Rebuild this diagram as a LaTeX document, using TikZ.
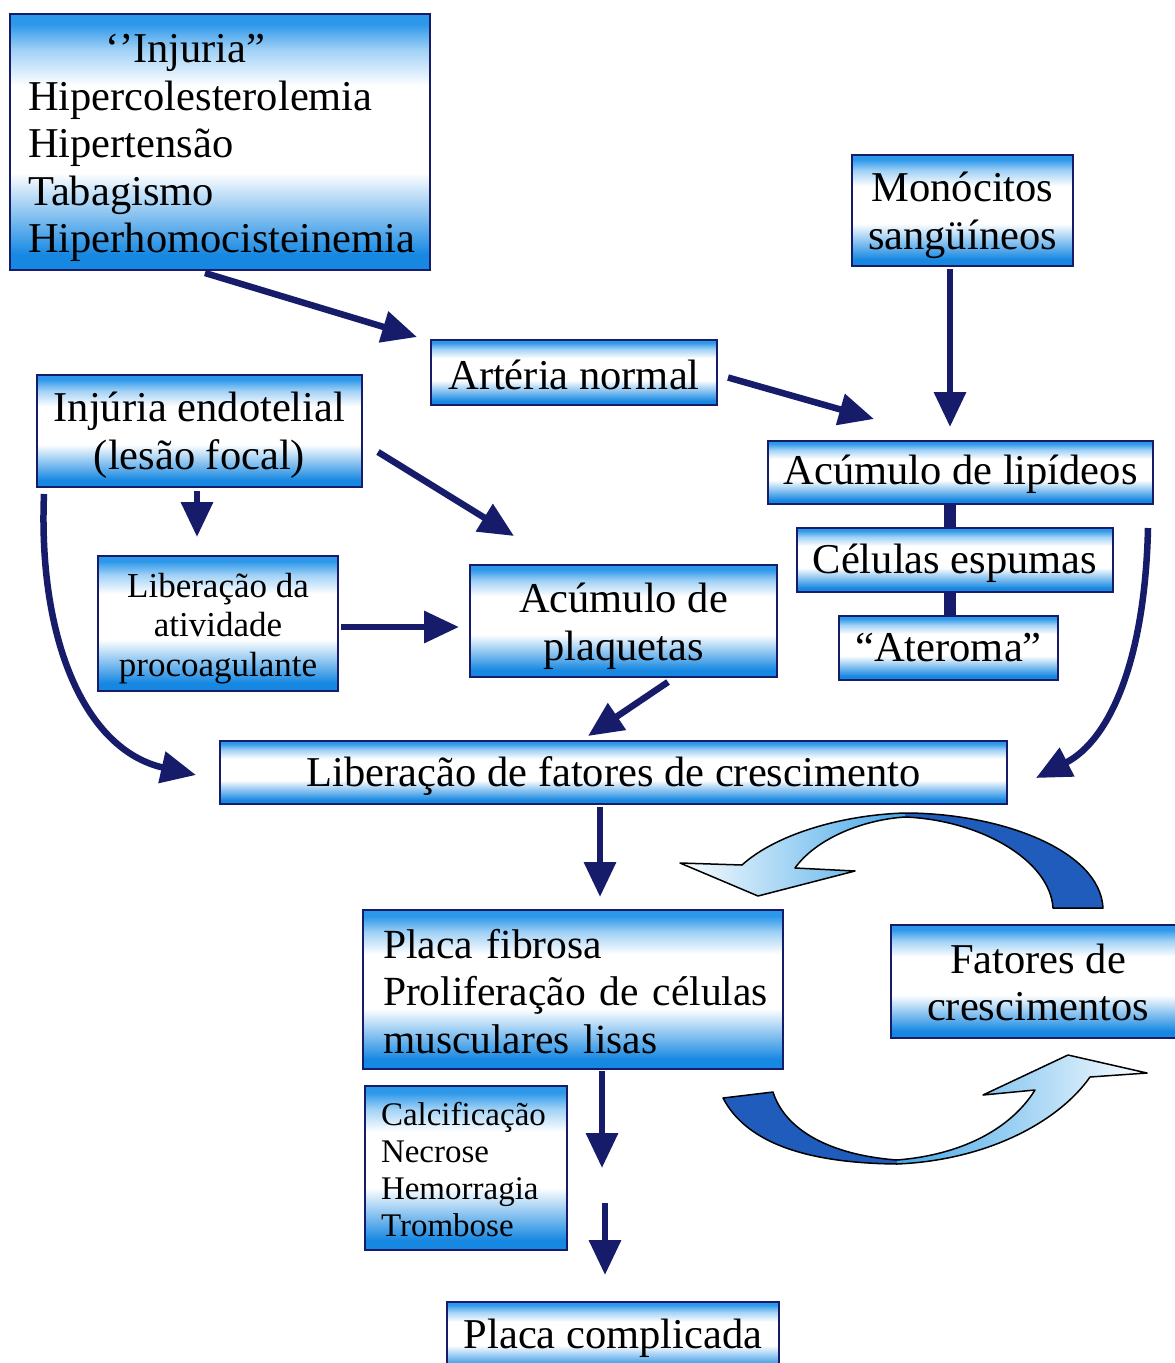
\documentclass[tikz,border=0pt]{standalone}
\usepackage{fontspec}
\setmainfont{Liberation Serif}
\usetikzlibrary{arrows.meta,calc}
\definecolor{navy}{RGB}{22,28,105}
\definecolor{bblue}{RGB}{22,136,226}
\definecolor{tblue}{RGB}{45,152,234}
\definecolor{darkarr}{RGB}{32,92,188}
\definecolor{lightarr}{RGB}{70,168,232}
\colorlet{bmid}{bblue!50!white}
\colorlet{tmid}{tblue!45!white}
\pgfdeclareverticalshading{boxshade}{100bp}{color(0bp)=(bblue); color(28bp)=(bblue); color(36bp)=(bmid); color(44bp)=(white); color(61bp)=(white); color(68bp)=(tmid); color(73bp)=(tblue); color(100bp)=(tblue)}
\tikzset{
  box/.style={shade, shading=boxshade, draw=navy, line width=2pt, inner sep=0pt},
  txt/.style={inner sep=0pt, align=center, font=\fontsize{42.5}{47.5}\selectfont},
  smalltxt/.style={txt, font=\fontsize{35}{39.5}\selectfont},
  arr/.style={draw=navy, line width=6.5pt, -{Triangle[length=35pt,width=31pt]}},
  linkbar/.style={draw=navy, line width=12pt},
  blockline/.style={draw=black, line width=1.5pt, line join=round}
}
\def\toparrow{(742,865) -- (680,863) -- (758,896) -- (855,871) -- (795,868) .. controls (815,840) and (860,820) .. (905,817) .. controls (980,820) and (1050,860) .. (1053,908) -- (1103,908) .. controls (1100,850) and (1000,813) .. (905,813) .. controls (840,815) and (775,835) .. (742,865) -- cycle}
\def\botarrow{(723,1098) .. controls (745,1140) and (800,1163) .. (897,1164) .. controls (990,1160) and (1060,1120) .. (1090,1077) -- (1147,1073) -- (1068,1055) -- (983,1095) -- (1035,1090) .. controls (1010,1130) and (960,1155) .. (897,1160) .. controls (830,1155) and (785,1130) .. (773,1092) -- cycle}
\begin{document}
\begin{tikzpicture}[x=1pt,y=-1pt]
\useasboundingbox (0,0) rectangle (1175,1363);
\fill[white] (0,0) rectangle (1175,1363);
\clip (0,0) rectangle (1175,1363);

% boxes
\node[box, minimum width=420pt, minimum height=256pt] (inj) at (220,142) {};
\node[txt, text width=384pt, align=left] (injt) at ($(inj.center)+(0,6)$)
  {\hspace*{77pt}‘’Injuria”\\Hipercolesterolemia\\Hipertensão\\Tabagismo\\Hiperhomocisteinemia};
\node[box, minimum width=221pt, minimum height=111pt] (mono) at (962.5,210.5) {};
\node[txt] (monot) at ($(mono.center)+(0,5)$) {Monócitos\\sangüíneos};
\node[box, minimum width=286pt, minimum height=65pt] (art) at (574,372.5) {};
\node[txt] (artt) at ($(art.center)+(0,2)$) {Artéria normal};
\node[box, minimum width=325pt, minimum height=112pt] (endo) at (199.5,431) {};
\node[txt] (endot) at ($(endo.center)+(0,4)$) {Injúria endotelial\\(lesão focal)};
\node[box, minimum width=385pt, minimum height=63pt] (lip) at (960.5,472.5) {};
\node[txt] (lipt) at ($(lip.center)+(0,2)$) {Acúmulo de lipídeos};
\node[box, minimum width=316pt, minimum height=64pt] (cel) at (955,560) {};
\node[txt] (celt) at ($(cel.center)+(0,3)$) {Células espumas};
\node[box, minimum width=219pt, minimum height=64pt] (ater) at (948.5,648) {};
\node[txt] (atert) at ($(ater.center)+(0,0)$) {“Ateroma”};
\node[box, minimum width=240pt, minimum height=135pt] (proc) at (218,623.5) {};
\node[smalltxt] (proct) at ($(proc.center)+(0,5)$) {Liberação da\\atividade\\procoagulante};
\node[box, minimum width=307pt, minimum height=112pt] (plaq) at (623.5,621) {};
\node[txt] (plaqt) at ($(plaq.center)+(0,5)$) {Acúmulo de\\plaquetas};
\node[box, minimum width=787pt, minimum height=63pt] (fat) at (613.5,772.5) {};
\node[txt] (fatt) at ($(fat.center)+(0,4)$) {Liberação de fatores de crescimento};
\node[box, minimum width=420pt, minimum height=159pt] (fib) at (573,989.5) {};
\node[txt, font=\fontsize{41.5}{47.5}\selectfont, text width=380pt, align=left] (fibt) at ($(fib.center)+(0,2)$)
  {\mbox{Placa fibrosa}\\\mbox{Proliferação de células}\\\mbox{musculares lisas}};
\node[box, minimum width=288pt, minimum height=113pt] (fcres) at (1035,981.5) {};
\node[txt] (fcrest) at ($(fcres.center)+(3,1)$) {Fatores de\\crescimentos};
\node[box, minimum width=202pt, minimum height=164pt] (calc) at (466,1168) {};
\node[txt, font=\fontsize{33}{37}\selectfont, text width=170pt, align=left] (calct) at ($(calc.center)+(0,2)$)
  {\mbox{Calcificação}\\Necrose\\Hemorragia\\Trombose};
\node[box, minimum width=332pt, minimum height=70pt] (comp) at (613,1337) {};
\node[txt] (compt) at (613,1338) {Placa complicada};

% connectors
\draw[arr] ($(inj.south)+(-15,2)$) -- ($(art.north west)+(-13,-2)$);
\draw[arr] ($(art.east)+(10,5)$) -- ($(lip.north west)+(107,-21)$);
\draw[arr] ($(mono.south)+(-12.5,2)$) -- ($(lip.north)+(-10.5,-13)$);
\draw[linkbar] ($(lip.south)+(-10.5,0)$) -- ($(cel.north)+(-5,0)$);
\draw[linkbar] ($(cel.south)+(-5,0)$) -- ($(ater.north)+(1.5,0)$);
\draw[arr] ($(endo.east)+(15,21)$) -- ($(plaq.north west)+(45,-28)$);
\draw[arr] ($(endo.south)+(-2.5,3)$) -- ($(proc.north)+(-21,-18)$);
\draw[arr] ($(proc.east)+(2,3.5)$) -- ($(plaq.west)+(-10,6)$);
\draw[arr] ($(plaq.south)+(44.5,4)$) -- ($(fat.north)+(-25.5,-4)$);
\draw[arr] ($(endo.south west)+(8,6)$) .. controls (38,640) and (85,750) .. ($(fat.west)+(-23,2.5)$);
\draw[arr] ($(lip.south east)+(-6,23)$) .. controls (1145,660) and (1110,740) .. ($(fat.east)+(28,5.5)$);
\draw[arr] ($(fat.south)+(-13.5,2)$) -- ($(fib.north)+(27,-12)$);
\coordinate (c1) at (602,1168);
\coordinate (c2) at (605,1203);
\draw[arr] ($(fib.south)+(29,1)$) -- (c1);
\draw[arr] (c2) -- ($(comp.north)+(-8,-26)$);

% circular block arrows
\begin{scope}
  \clip \toparrow;
  \fill[darkarr] (905,800) rectangle (1110,915);
  \shade[left color=white, right color=lightarr] (675,800) rectangle (905,915);
\end{scope}
\draw[blockline] \toparrow;
\begin{scope}
  \clip \botarrow;
  \fill[darkarr] (715,1045) rectangle (897,1170);
  \shade[left color=lightarr, right color=white] (897,1045) rectangle (1150,1170);
\end{scope}
\draw[blockline] \botarrow;
\end{tikzpicture}
\end{document}
